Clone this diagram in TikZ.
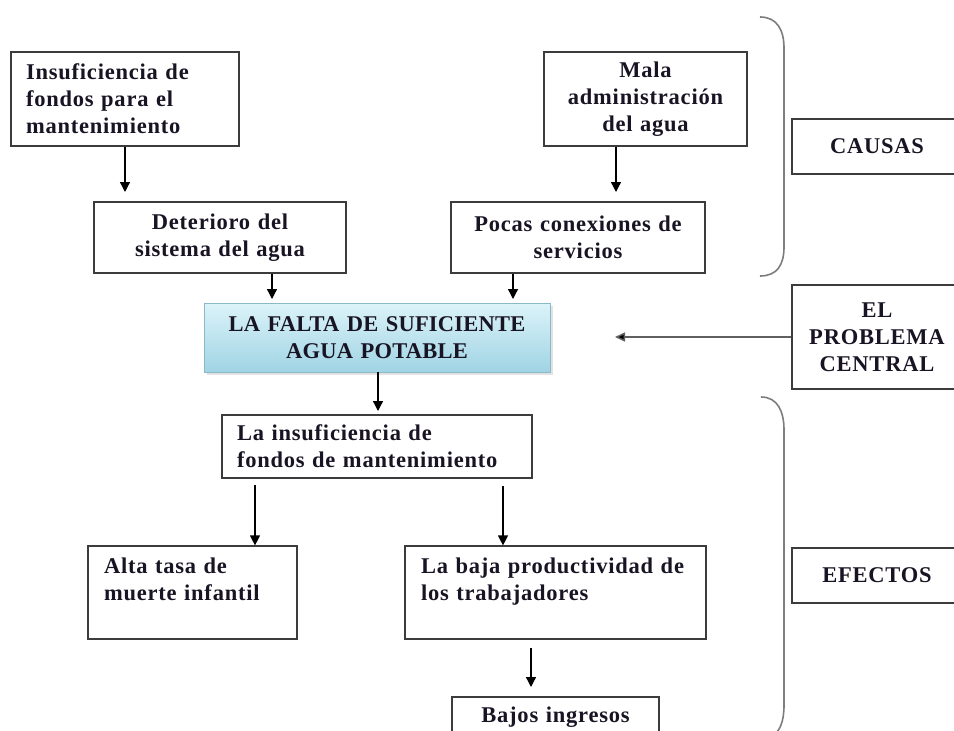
\documentclass[tikz,border=0pt]{standalone}
\usepackage{fontspec}
\setmainfont{Liberation Serif}[LetterSpace=3.5]
\usetikzlibrary{arrows.meta,calc,shadows}

\definecolor{ink}{RGB}{25,20,35}
\definecolor{frame}{RGB}{60,60,60}
\definecolor{ctop}{RGB}{220,243,249}
\definecolor{cbot}{RGB}{160,212,228}
\definecolor{cedge}{RGB}{140,185,200}
\definecolor{bracec}{RGB}{125,125,125}

\begin{document}
\begin{tikzpicture}[x=1pt,y=-1pt,
  box/.style={draw=frame,line width=1.2pt,inner ysep=0pt,
    font=\fontsize{22.5}{27}\selectfont\bfseries,text=ink},
  lbox/.style={box,align=left,inner xsep=15pt},
  cbox/.style={box,align=center,inner xsep=4pt},
  arr/.style={line width=1.3pt,draw=black,-{Triangle[length=10pt,width=10pt]}},
  garr/.style={line width=1.5pt,draw=gray!75!black,-{Triangle[length=10pt,width=9pt,fill=black]}},
  bracel/.style={line width=1.6pt,draw=bracec}]

\useasboundingbox (0,0) rectangle (954,731);
\fill[white] (0,0) rectangle (954,731);

% causes
\node[lbox,text width=198pt,minimum height=94pt] (b1) at (125,99)
  {Insuficiencia de\\fondos para el\\mantenimiento};
\node[cbox,text width=195pt,minimum height=94pt] (m1) at (645.5,99)
  {Mala\\administración\\del agua};
\node[cbox,text width=244pt,minimum height=71pt] (b2) at (220,237.5)
  {Deterioro del\\sistema del agua};
\node[cbox,text width=246pt,minimum height=71pt] (p2) at (578,237.5)
  {Pocas conexiones de\\servicios};

% central problem
\node[cbox,draw=cedge,line width=0.8pt,top color=ctop,bottom color=cbot,
  drop shadow={shadow xshift=3pt,shadow yshift=-3pt,fill=gray!45},
  text width=338pt,minimum height=69pt,
  font=\fontsize{22.5}{27}\selectfont\bfseries\addfontfeatures{LetterSpace=1}] (c) at (377,337.5)
  {LA FALTA DE SUFICIENTE\\AGUA POTABLE};

% effects
\node[lbox,text width=280pt,minimum height=63pt] (ins) at (377,446.5)
  {La insuficiencia de\\\mbox{fondos de mantenimiento}};
\node[lbox,inner xsep=16pt,text width=177pt,minimum height=93pt] (alta) at (192.5,592.5)
  {Alta tasa de\\muerte infantil\\\mbox{}};
\node[lbox,inner xsep=16pt,text width=269pt,minimum height=93pt] (baja) at (555.5,592.5)
  {\mbox{La baja productividad de}\\los trabajadores\\\mbox{}};
\node[cbox,text width=199pt,minimum height=63pt] (bajos) at (555.5,728.5)
  {Bajos ingresos\\\mbox{}};

% right labels
\node[cbox,text width=162pt,minimum height=55pt] (causas) at (877,146.5) {CAUSAS};
\node[cbox,text width=162pt,minimum height=104pt] (prob) at (877,337)
  {EL\\PROBLEMA\\CENTRAL};
\node[cbox,text width=162pt,minimum height=55pt] (efectos) at (877,575.5) {EFECTOS};

% connector end points
\coordinate (e1) at (125,192);
\coordinate (e2) at (616,192);
\coordinate (e3) at (272,299);
\coordinate (e4) at (513,299);
\coordinate (e5) at (378,411);
\coordinate (e6) at (615,337);
\coordinate (s7) at (255,485);
\coordinate (s8) at (503,486);
\coordinate (s9) at (531,648);
\coordinate (e9) at (531,687);

\draw[arr] (b1.south -| e1) -- (e1);
\draw[arr] (m1.south -| e2) -- (e2);
\draw[arr] (b2.south -| e3) -- (e3);
\draw[arr] (p2.south -| e4) -- (e4);
\draw[arr] (c.south -| e5) -- (e5);
\draw[garr] (prob.west |- e6) -- (e6);
\draw[arr] (s7) -- (alta.north -| s7);
\draw[arr] (s8) -- (baja.north -| s8);
\draw[arr] (s9) -- (e9);

% braces
\draw[bracel] (760,17) .. controls (777,17) and (784,30) .. (784,48)
  -- (784,247) .. controls (784,265) and (777,276) .. (760,276);
\draw[bracel] (761,397) .. controls (778,397) and (784,412) .. (784,430)
  -- (784,705) .. controls (784,722) and (780,731) .. (771,738);

\end{tikzpicture}
\end{document}
